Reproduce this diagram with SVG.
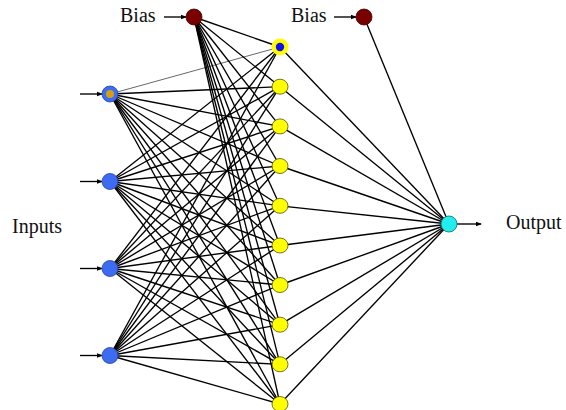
<svg xmlns="http://www.w3.org/2000/svg" width="566" height="410" viewBox="0 0 566 410">
<style>
text{font-family:"Liberation Serif","Times New Roman",serif;font-size:20px;fill:#111}
.c line{stroke:#000;stroke-width:1.35}
.c line.thin{stroke-width:0.6}
.a{stroke:#000;stroke-width:1.2;marker-end:url(#ah)}
.in{fill:#3d6cf2;stroke:#2244aa;stroke-width:0.8}
.hid{fill:#ffff00;stroke:#555500;stroke-width:0.8}
.bias{fill:#7a0000;stroke:#400;stroke-width:0.8}
.out{fill:#22eeee;stroke:#0a6a6a;stroke-width:0.8}
</style>
<defs>
<marker id="ah" markerWidth="6" markerHeight="6" refX="5" refY="3" orient="auto" markerUnits="userSpaceOnUse"><path d="M0,0.8 L6,3 L0,5.2 Z" fill="#000"/></marker>
</defs>
<rect width="566" height="410" fill="#fff"/>
<g id="connectors" class="c">
<line x1="194" y1="17" x2="280" y2="47"/>
<line x1="194" y1="17" x2="280" y2="86.7"/>
<line x1="194" y1="17" x2="280" y2="126.4"/>
<line x1="194" y1="17" x2="280" y2="166"/>
<line x1="194" y1="17" x2="280" y2="205.8"/>
<line x1="194" y1="17" x2="280" y2="245.5"/>
<line x1="194" y1="17" x2="280" y2="285"/>
<line x1="194" y1="17" x2="280" y2="324.7"/>
<line x1="194" y1="17" x2="280" y2="364.3"/>
<line x1="194" y1="17" x2="280" y2="404"/>
<line class="thin" x1="110" y1="94" x2="280" y2="47"/>
<line x1="110" y1="94" x2="280" y2="86.7"/>
<line x1="110" y1="94" x2="280" y2="126.4"/>
<line x1="110" y1="94" x2="280" y2="166"/>
<line x1="110" y1="94" x2="280" y2="205.8"/>
<line x1="110" y1="94" x2="280" y2="245.5"/>
<line x1="110" y1="94" x2="280" y2="285"/>
<line x1="110" y1="94" x2="280" y2="324.7"/>
<line x1="110" y1="94" x2="280" y2="364.3"/>
<line x1="110" y1="94" x2="280" y2="404"/>
<line x1="110" y1="181.5" x2="280" y2="47"/>
<line x1="110" y1="181.5" x2="280" y2="86.7"/>
<line x1="110" y1="181.5" x2="280" y2="126.4"/>
<line x1="110" y1="181.5" x2="280" y2="166"/>
<line x1="110" y1="181.5" x2="280" y2="205.8"/>
<line x1="110" y1="181.5" x2="280" y2="245.5"/>
<line x1="110" y1="181.5" x2="280" y2="285"/>
<line x1="110" y1="181.5" x2="280" y2="324.7"/>
<line x1="110" y1="181.5" x2="280" y2="364.3"/>
<line x1="110" y1="181.5" x2="280" y2="404"/>
<line x1="110" y1="268.5" x2="280" y2="47"/>
<line x1="110" y1="268.5" x2="280" y2="86.7"/>
<line x1="110" y1="268.5" x2="280" y2="126.4"/>
<line x1="110" y1="268.5" x2="280" y2="166"/>
<line x1="110" y1="268.5" x2="280" y2="205.8"/>
<line x1="110" y1="268.5" x2="280" y2="245.5"/>
<line x1="110" y1="268.5" x2="280" y2="285"/>
<line x1="110" y1="268.5" x2="280" y2="324.7"/>
<line x1="110" y1="268.5" x2="280" y2="364.3"/>
<line x1="110" y1="268.5" x2="280" y2="404"/>
<line x1="110" y1="355.5" x2="280" y2="47"/>
<line x1="110" y1="355.5" x2="280" y2="86.7"/>
<line x1="110" y1="355.5" x2="280" y2="126.4"/>
<line x1="110" y1="355.5" x2="280" y2="166"/>
<line x1="110" y1="355.5" x2="280" y2="205.8"/>
<line x1="110" y1="355.5" x2="280" y2="245.5"/>
<line x1="110" y1="355.5" x2="280" y2="285"/>
<line x1="110" y1="355.5" x2="280" y2="324.7"/>
<line x1="110" y1="355.5" x2="280" y2="364.3"/>
<line x1="110" y1="355.5" x2="280" y2="404"/>
<line x1="280" y1="47" x2="449" y2="224"/>
<line x1="280" y1="86.7" x2="449" y2="224"/>
<line x1="280" y1="126.4" x2="449" y2="224"/>
<line x1="280" y1="166" x2="449" y2="224"/>
<line x1="280" y1="205.8" x2="449" y2="224"/>
<line x1="280" y1="245.5" x2="449" y2="224"/>
<line x1="280" y1="285" x2="449" y2="224"/>
<line x1="280" y1="324.7" x2="449" y2="224"/>
<line x1="280" y1="364.3" x2="449" y2="224"/>
<line x1="280" y1="404" x2="449" y2="224"/>
<line x1="364" y1="17" x2="449" y2="224"/>
<line class="a" x1="164" y1="17" x2="186" y2="17"/>
<line class="a" x1="334" y1="17" x2="356" y2="17"/>
<line class="a" x1="80" y1="94" x2="102" y2="94"/>
<line class="a" x1="80" y1="181.5" x2="102" y2="181.5"/>
<line class="a" x1="80" y1="268.5" x2="102" y2="268.5"/>
<line class="a" x1="80" y1="355.5" x2="102" y2="355.5"/>
<line class="a" x1="457" y1="224" x2="481" y2="224"/>
</g>
<g id="bias1"><circle class="bias" cx="194" cy="17" r="8"/><text x="120" y="22">Bias</text></g>
<g id="bias2"><circle class="bias" cx="364" cy="17" r="8"/><text x="291" y="22">Bias</text></g>
<g id="input1"><circle class="in" cx="110" cy="94" r="8"/><circle cx="110" cy="94" r="4" fill="#d4a012"/></g>
<g id="input2"><circle class="in" cx="110" cy="181.5" r="8"/></g>
<g id="input3"><circle class="in" cx="110" cy="268.5" r="8"/></g>
<g id="input4"><circle class="in" cx="110" cy="355.5" r="8"/></g>
<g id="hidden1"><circle cx="280" cy="47" r="8.5" fill="#ffff00"/><circle cx="280" cy="47" r="4.2" fill="#1010ee"/></g>
<g id="hidden2"><ellipse class="hid" cx="280" cy="86.7" rx="8" ry="7.5"/></g>
<g id="hidden3"><ellipse class="hid" cx="280" cy="126.4" rx="8" ry="7.5"/></g>
<g id="hidden4"><ellipse class="hid" cx="280" cy="166" rx="8" ry="7.5"/></g>
<g id="hidden5"><ellipse class="hid" cx="280" cy="205.8" rx="8" ry="7.5"/></g>
<g id="hidden6"><ellipse class="hid" cx="280" cy="245.5" rx="8" ry="7.5"/></g>
<g id="hidden7"><ellipse class="hid" cx="280" cy="285" rx="8" ry="7.5"/></g>
<g id="hidden8"><ellipse class="hid" cx="280" cy="324.7" rx="8" ry="7.5"/></g>
<g id="hidden9"><ellipse class="hid" cx="280" cy="364.3" rx="8" ry="7.5"/></g>
<g id="hidden10"><ellipse class="hid" cx="280" cy="404" rx="8" ry="7.5"/></g>
<g id="output"><circle class="out" cx="449" cy="224" r="8"/><text x="506" y="229">Output</text></g>
<g id="inputs-label"><text x="12" y="233">Inputs</text></g>
</svg>
